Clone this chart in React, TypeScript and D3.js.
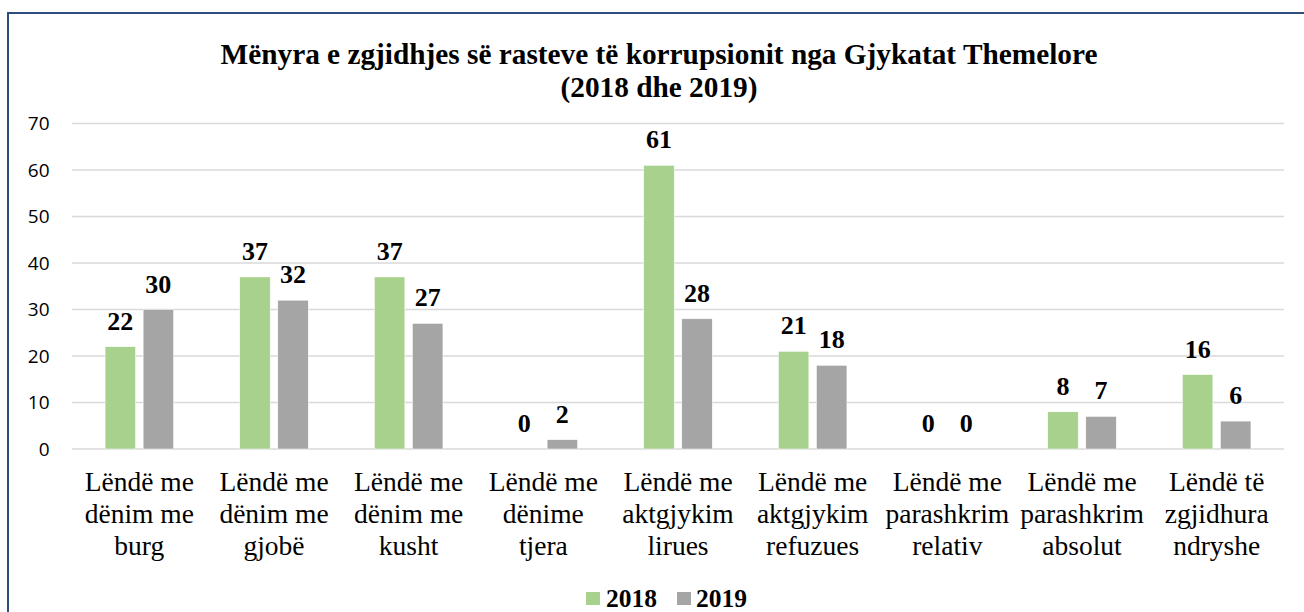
import React from "react";
import * as d3 from "d3";

const categories: string[][] = [
  ["Lëndë me", "dënim me", "burg"],
  ["Lëndë me", "dënim me", "gjobë"],
  ["Lëndë me", "dënim me", "kusht"],
  ["Lëndë me", "dënime", "tjera"],
  ["Lëndë me", "aktgjykim", "lirues"],
  ["Lëndë me", "aktgjykim", "refuzues"],
  ["Lëndë me", "parashkrim", "relativ"],
  ["Lëndë me", "parashkrim", "absolut"],
  ["Lëndë të", "zgjidhura", "ndryshe"],
];
const series = ["2018", "2019"];
const values2018 = [22, 37, 37, 0, 61, 21, 0, 8, 16];
const values2019 = [30, 32, 27, 2, 28, 18, 0, 7, 6];
const yTicks = [0, 10, 20, 30, 40, 50, 60, 70];
const titleLines = [
  "Mënyra e zgjidhjes së rasteve të korrupsionit nga Gjykatat Themelore",
  "(2018 dhe 2019)",
];
const colors: Record<string, string> = { "2018": "#A9D18E", "2019": "#A5A5A5" };

export default function App() {
  const W = 1304;
  const H = 612;
  const left = 72;
  const right = 1284;
  const y0 = 449;
  const yTop = 123.5;
  const serif = "'Liberation Serif', 'Times New Roman', serif";
  const sans = "'Open Sans', sans-serif";

  const idx = categories.map((_, i) => String(i));
  const x0 = d3.scaleBand<string>().domain(idx).range([left, right]).padding(0);
  const x1 = d3.scaleBand<string>().domain(series).range([-34.25, 34.25]).paddingInner(0.2);
  const y = d3.scaleLinear().domain([0, 70]).range([y0, yTop]);
  const data: Record<string, number[]> = { "2018": values2018, "2019": values2019 };
  const centerX = 659;

  return (
    <svg width={W} height={H} style={{ position: "absolute", left: 0, top: 0, display: "block" }}>
      <rect x={0} y={0} width={W} height={H} fill="#ffffff" />
      <rect x={8} y={13} width={1310} height={620} fill="none" stroke="#2F4C7E" strokeWidth={2} />
      {titleLines.map((t, i) => (
        <text key={i} x={centerX} y={64 + i * 33} textAnchor="middle" fontFamily={serif} fontWeight="bold" fontSize={29.3} fill="#000">
          {t}
        </text>
      ))}
      {yTicks.map((t) => (
        <g key={t}>
          <line x1={left} x2={right} y1={y(t)} y2={y(t)} stroke="#D9D9D9" strokeWidth={1.5} />
          <text x={49.5} y={y(t)} dy="0.35em" textAnchor="end" fontFamily={sans} fontSize={19} fill="#000">
            {t}
          </text>
        </g>
      ))}
      {categories.map((lines, i) =>
        series.map((s) => {
          const v = data[s][i];
          const bx = (x0(String(i)) as number) + x0.bandwidth() / 2 + (x1(s) as number);
          const bw = x1.bandwidth();
          return (
            <g key={`${i}-${s}`}>
              {v > 0 && (
                <rect x={bx} y={y(v)} width={bw} height={y0 - y(v)} fill={colors[s]} stroke="#fff" strokeWidth={0.5} />
              )}
              <text x={bx + bw / 2} y={y(v) - 17} textAnchor="middle" fontFamily={serif} fontWeight="bold" fontSize={26} fill="#000">
                {v}
              </text>
            </g>
          );
        })
      )}
      {categories.map((lines, i) => (
        <text key={i} textAnchor="middle" fontFamily={serif} fontSize={27.5} fill="#000">
          {lines.map((l, j) => (
            <tspan key={j} x={(x0(String(i)) as number) + x0.bandwidth() / 2} y={491 + j * 32}>
              {l}
            </tspan>
          ))}
        </text>
      ))}
      <g>
        <rect x={586} y={592} width={14} height={13} fill={colors["2018"]} />
        <text x={606} y={607} fontFamily={serif} fontWeight="bold" fontSize={25.5} fill="#000">2018</text>
        <rect x={677} y={592} width={14} height={13} fill={colors["2019"]} />
        <text x={696} y={607} fontFamily={serif} fontWeight="bold" fontSize={25.5} fill="#000">2019</text>
      </g>
    </svg>
  );
}
